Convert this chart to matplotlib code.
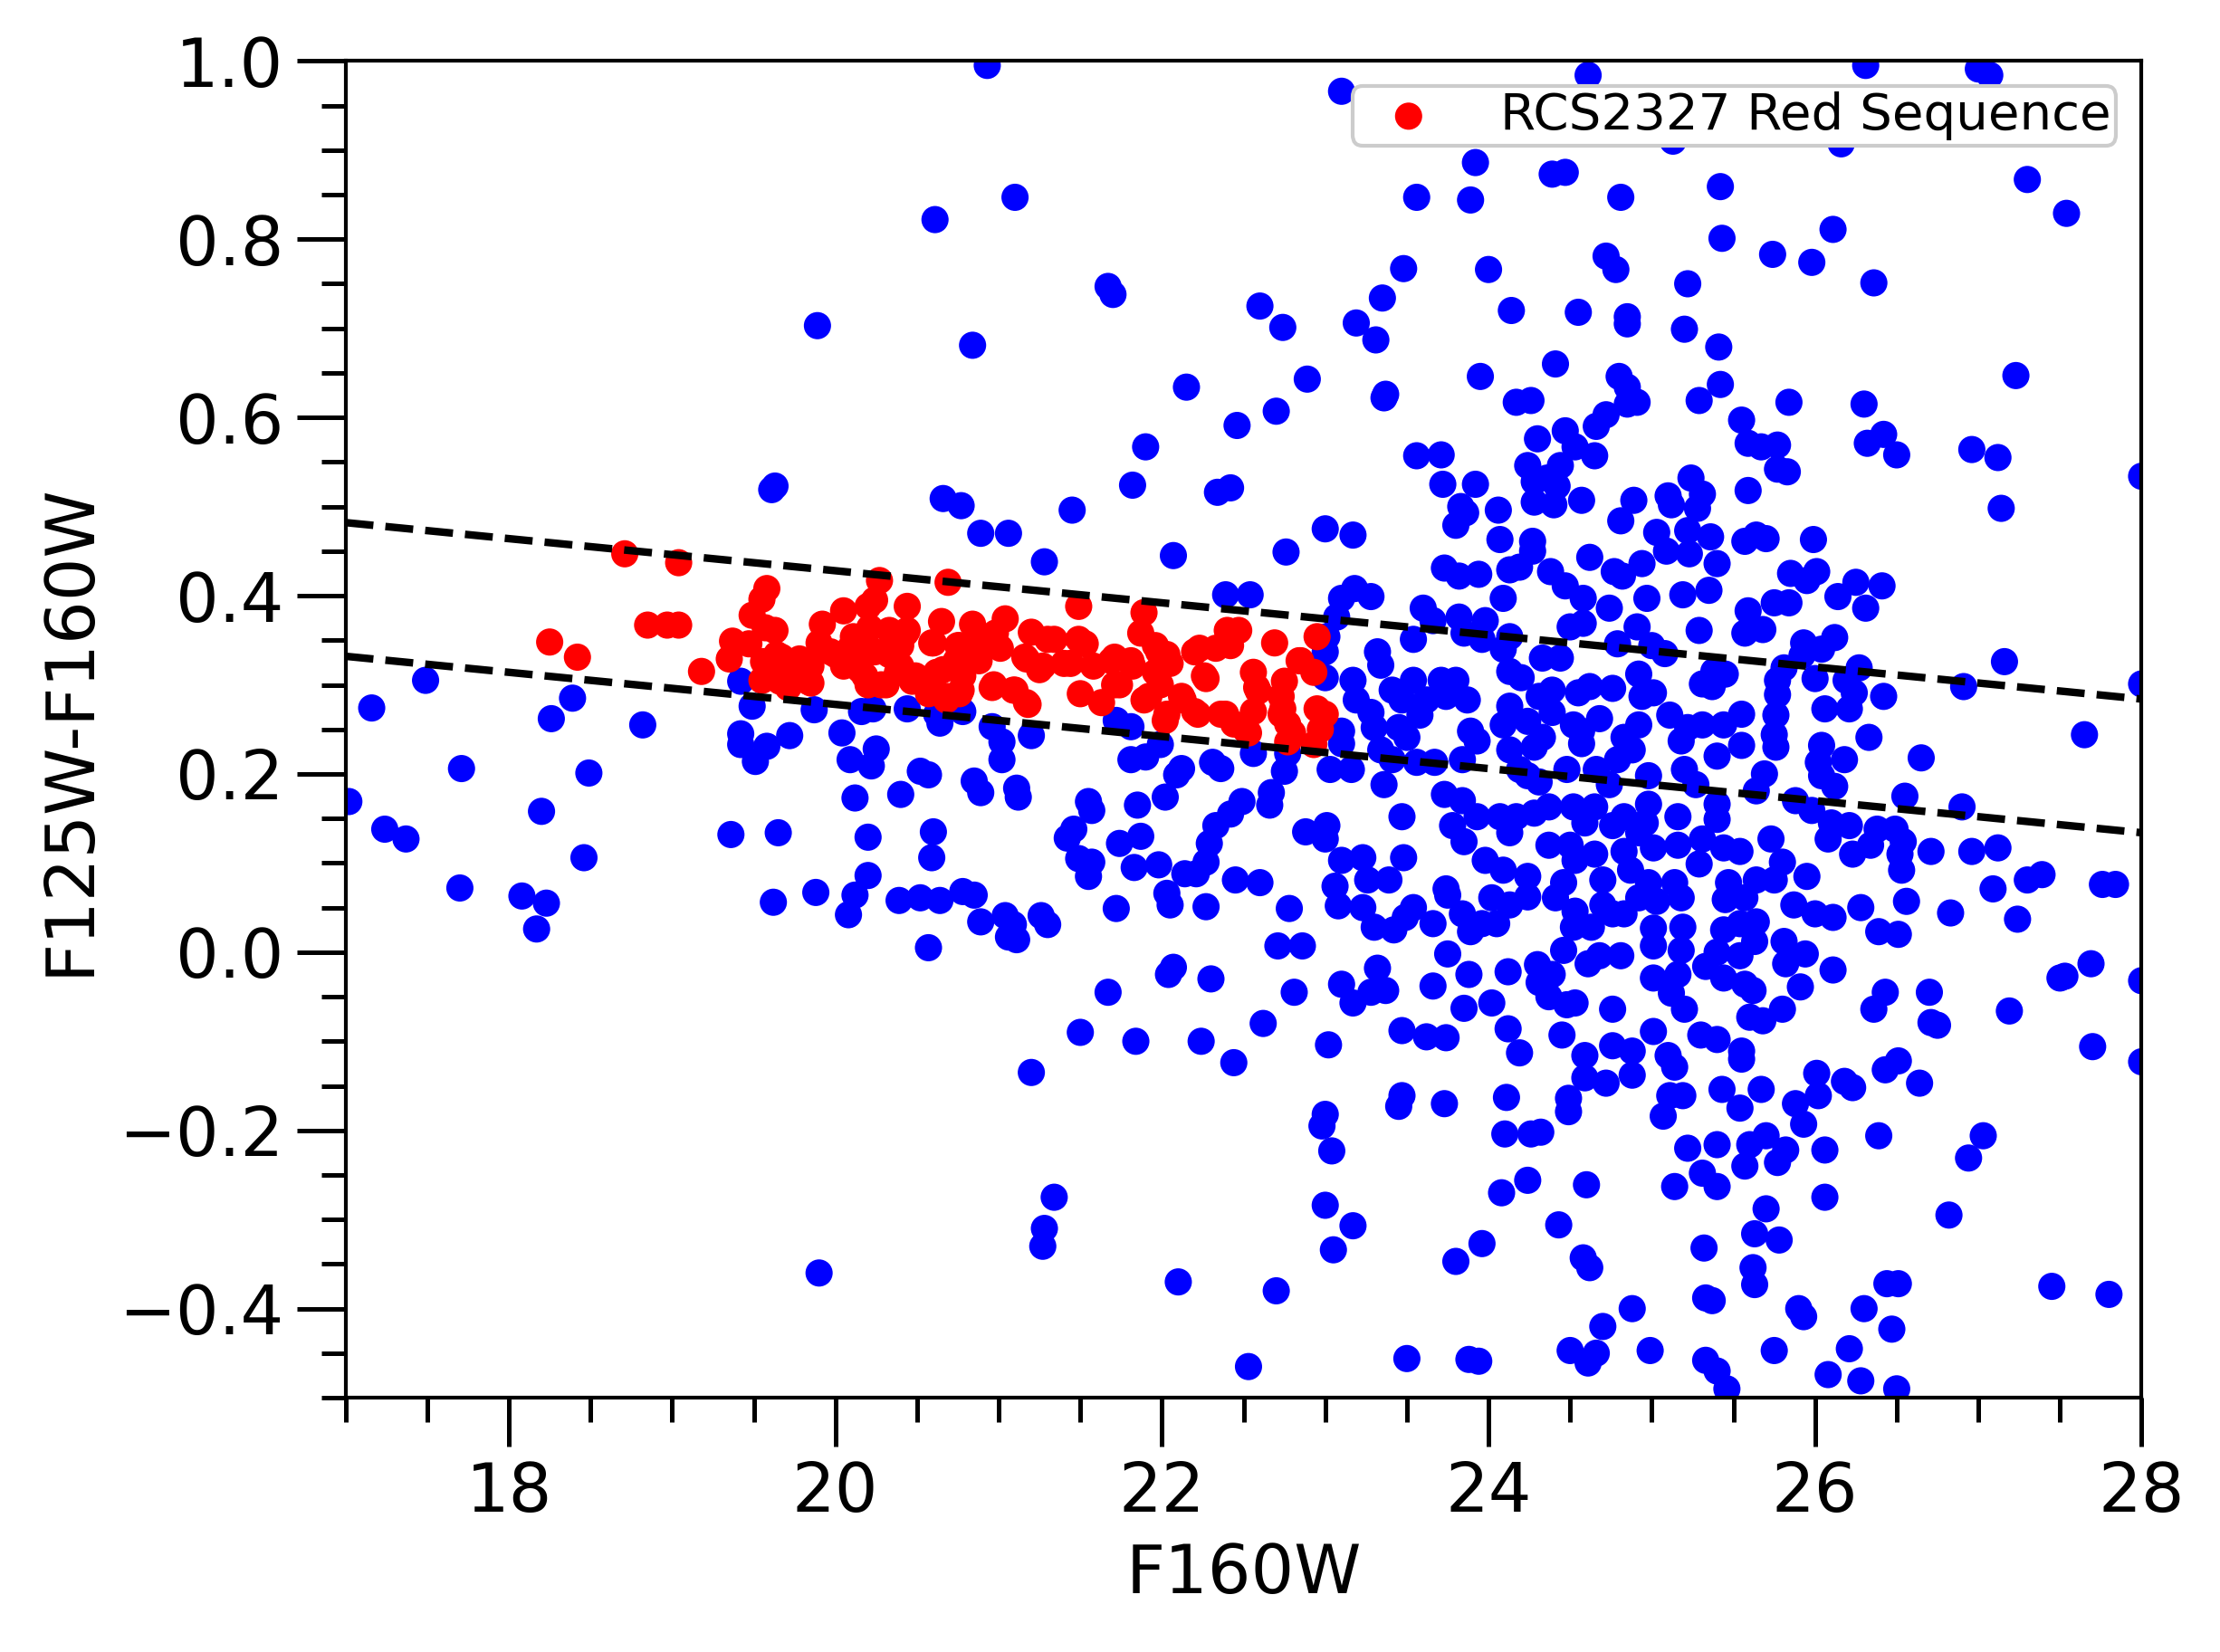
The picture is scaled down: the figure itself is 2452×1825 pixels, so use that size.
import numpy as np
import matplotlib.pyplot as plt
from matplotlib.ticker import MultipleLocator

# (F160W, F125W-F160W), grouped by region of the plot
bright_upper = [
    (20.93, 0.995), (23.10, 0.966), (23.92, 0.886), (23.56, 0.847), (23.89, 0.844), (21.10, 0.847),
    (20.61, 0.822), (19.89, 0.703), (23.48, 0.767), (24.00, 0.766), (21.67, 0.747), (21.70, 0.738),
    (22.60, 0.725), (23.35, 0.734), (24.14, 0.720), (22.74, 0.701), (23.19, 0.706), (23.31, 0.687),
    (20.84, 0.681), (22.15, 0.634), (22.89, 0.643), (23.37, 0.626), (23.95, 0.646), (22.46, 0.591),
    (22.70, 0.607), (21.90, 0.567), (19.61, 0.519), (19.63, 0.523), (20.66, 0.509), (20.77, 0.501),
    (21.45, 0.496), (21.82, 0.524), (22.34, 0.516), (22.42, 0.521),
]

faint_upper = [
    (24.61, 0.984), (26.31, 0.995), (27.00, 0.991), (27.07, 0.984), (25.13, 0.910), (26.16, 0.907),
    (24.39, 0.873), (24.47, 0.875), (24.81, 0.847), (25.42, 0.859), (27.30, 0.867), (27.54, 0.829),
    (25.43, 0.801), (25.74, 0.783), (25.98, 0.774), (26.11, 0.811), (26.36, 0.751), (24.72, 0.781),
    (24.78, 0.766), (25.22, 0.750), (24.55, 0.718), (24.85, 0.713), (24.85, 0.705), (25.20, 0.699),
    (25.41, 0.679), (24.41, 0.660), (24.80, 0.646), (24.85, 0.634), (25.42, 0.637), (27.23, 0.647),
]

mid_cloud = [
    (23.36, 0.622), (24.17, 0.617), (24.26, 0.619), (24.85, 0.615), (24.91, 0.617), (25.29, 0.619),
    (24.72, 0.603), (24.66, 0.590), (24.30, 0.576), (24.47, 0.585), (24.53, 0.567), (24.65, 0.557),
    (24.24, 0.546), (24.44, 0.546), (24.36, 0.532), (24.28, 0.528), (24.42, 0.523), (24.28, 0.505),
    (24.40, 0.502), (24.57, 0.507), (23.56, 0.557), (23.71, 0.558), (23.72, 0.525), (23.92, 0.525),
    (23.83, 0.500), (23.86, 0.493), (23.80, 0.479), (24.06, 0.496), (25.24, 0.532), (25.31, 0.514),
    (24.89, 0.507), (24.81, 0.484), (25.10, 0.512), (25.12, 0.502), (25.28, 0.498), (25.03, 0.471),
    (25.09, 0.450), (25.22, 0.473), (25.36, 0.466), (25.23, 0.447), (25.40, 0.436), (23.00, 0.475),
    (23.17, 0.468), (24.07, 0.463), (24.27, 0.461), (24.27, 0.450), (24.62, 0.443), (24.13, 0.429),
    (24.19, 0.432), (23.73, 0.431), (23.82, 0.422), (23.94, 0.424), (24.38, 0.427), (24.47, 0.411),
    (24.58, 0.397), (24.09, 0.397), (24.77, 0.427), (24.82, 0.422), (24.94, 0.436), (24.97, 0.397),
    (25.19, 0.401), (25.35, 0.406), (24.74, 0.386), (25.29, 0.361), (23.10, 0.397), (23.18, 0.408),
    (23.28, 0.399), (23.07, 0.376), (23.01, 0.354), (23.00, 0.337), (23.00, 0.308), (23.60, 0.386),
    (23.66, 0.372), (23.54, 0.351), (23.82, 0.376), (23.85, 0.358), (23.98, 0.372), (23.96, 0.351),
    (24.13, 0.354), (24.09, 0.340), (24.50, 0.365), (24.58, 0.369), (24.91, 0.365), (24.79, 0.346),
    (25.00, 0.344), (25.08, 0.335), (24.44, 0.330), (24.33, 0.330), (24.13, 0.315), (24.20, 0.308),
    (23.32, 0.337), (23.17, 0.305), (23.34, 0.322), (23.19, 0.283), (23.28, 0.269), (23.41, 0.294),
    (23.54, 0.305), (23.47, 0.283), (23.71, 0.305), (23.80, 0.305), (23.87, 0.283), (23.74, 0.287),
    (23.62, 0.283), (23.58, 0.266), (23.45, 0.252), (23.30, 0.252), (23.10, 0.248), (23.10, 0.234),
    (23.34, 0.227), (23.50, 0.241), (23.41, 0.216), (23.56, 0.213), (23.67, 0.213), (23.84, 0.216),
    (23.89, 0.248), (23.93, 0.237), (24.13, 0.276), (24.09, 0.255), (24.24, 0.259), (24.31, 0.287),
    (24.39, 0.269), (24.39, 0.294), (24.55, 0.291), (24.62, 0.298), (24.76, 0.296), (24.92, 0.312),
    (24.94, 0.287), (25.01, 0.291), (25.11, 0.266), (25.31, 0.301), (25.37, 0.298), (25.38, 0.315),
    (25.45, 0.312), (24.68, 0.262), (24.92, 0.255), (24.83, 0.241), (24.79, 0.216), (24.88, 0.227),
    (24.57, 0.248), (24.57, 0.234), (24.52, 0.255), (24.28, 0.230), (24.33, 0.241), (24.13, 0.227),
    (24.19, 0.205), (24.24, 0.198), (24.31, 0.191), (24.48, 0.205), (24.66, 0.205), (24.74, 0.188),
    (24.98, 0.198), (25.18, 0.237), (25.22, 0.252), (25.31, 0.255), (25.44, 0.255), (25.40, 0.220),
    (25.20, 0.205), (25.27, 0.188), (25.40, 0.166), (25.40, 0.149), (24.98, 0.166), (24.96, 0.145),
    (25.16, 0.152), (23.36, 0.188), (23.16, 0.205), (23.03, 0.205), (23.73, 0.177), (23.84, 0.170),
    (23.47, 0.152), (23.78, 0.142), (23.93, 0.152), (23.85, 0.124), (24.07, 0.152), (24.17, 0.152),
    (24.13, 0.134), (24.28, 0.156), (24.37, 0.163), (24.52, 0.163), (24.65, 0.163), (24.59, 0.145),
    (24.37, 0.120), (24.50, 0.120), (24.65, 0.110), (24.76, 0.142), (24.83, 0.152), (24.92, 0.134),
    (24.83, 0.113), (25.01, 0.117), (25.16, 0.120), (25.31, 0.127), (25.44, 0.117), (24.53, 0.103),
    (23.01, 0.142), (23.00, 0.127), (23.10, 0.103), (23.23, 0.106), (23.26, 0.081), (23.39, 0.081),
    (23.48, 0.106), (23.74, 0.071), (23.98, 0.103), (24.09, 0.092), (24.24, 0.085), (24.46, 0.078),
    (24.70, 0.081), (24.87, 0.092), (24.98, 0.078), (25.14, 0.078), (25.29, 0.099), (25.47, 0.078),
    (23.06, 0.074),
]

faint_mid = [
    (25.84, 0.617), (26.30, 0.615), (25.55, 0.597), (25.59, 0.571), (25.67, 0.567), (25.77, 0.569),
    (25.77, 0.542), (25.83, 0.539), (25.59, 0.518), (26.32, 0.571), (26.42, 0.581), (26.50, 0.558),
    (26.96, 0.564), (27.12, 0.555), (27.14, 0.498), (28.00, 0.534), (25.57, 0.461), (25.64, 0.468),
    (25.70, 0.464), (25.99, 0.463), (25.85, 0.425), (25.95, 0.417), (26.01, 0.427), (26.14, 0.399),
    (26.25, 0.415), (26.41, 0.411), (26.31, 0.386), (25.59, 0.383), (25.75, 0.392), (25.84, 0.392),
    (25.57, 0.358), (25.68, 0.362), (25.93, 0.347), (26.12, 0.353), (26.04, 0.340), (25.92, 0.333),
    (25.81, 0.319), (25.77, 0.305), (26.00, 0.307), (26.27, 0.319), (26.19, 0.305), (26.24, 0.291),
    (26.42, 0.287), (26.06, 0.273), (26.21, 0.273), (25.77, 0.289), (25.76, 0.266), (25.75, 0.244),
    (25.76, 0.230), (25.55, 0.267), (25.55, 0.232), (25.69, 0.200), (25.64, 0.181), (26.04, 0.232),
    (26.02, 0.213), (26.18, 0.216), (26.33, 0.241), (26.65, 0.218), (26.04, 0.198), (26.12, 0.186),
    (26.55, 0.175), (26.90, 0.163), (27.16, 0.326), (26.91, 0.298), (28.00, 0.301), (27.65, 0.244),
    (25.88, 0.170), (25.98, 0.159), (26.10, 0.145), (26.21, 0.142), (26.08, 0.127), (26.23, 0.110),
    (26.34, 0.120), (26.38, 0.138), (26.49, 0.138), (26.54, 0.124), (26.52, 0.110), (26.53, 0.092),
    (26.71, 0.113), (26.96, 0.113), (27.12, 0.117), (25.73, 0.127), (25.80, 0.101), (25.54, 0.113),
    (25.95, 0.085), (25.64, 0.081), (25.75, 0.081), (27.30, 0.081), (27.39, 0.087), (27.76, 0.076),
    (27.84, 0.076), (27.09, 0.071),
]

mid_lower = [
    (23.08, 0.052), (23.23, 0.050), (23.30, 0.028), (23.42, 0.025), (23.54, 0.050), (23.49, 0.039),
    (23.66, 0.032), (23.75, 0.064), (23.84, 0.043), (23.89, 0.023), (23.96, 0.032), (24.05, 0.032),
    (24.02, 0.061), (24.13, 0.053), (24.24, 0.062), (24.41, 0.061), (24.53, 0.046), (24.52, 0.028),
    (24.63, 0.028), (24.70, 0.053), (24.76, 0.043), (24.83, 0.043), (24.92, 0.061), (25.03, 0.057),
    (25.18, 0.061), (25.01, 0.027), (25.19, 0.028), (25.01, 0.007), (25.18, 0.002), (25.44, 0.025),
    (25.45, 0.059), (25.40, 0.000), (25.33, -0.016), (25.44, -0.029), (25.01, -0.029), (25.16, -0.025),
    (25.12, -0.046), (25.20, -0.064), (23.75, -0.002), (23.88, -0.025), (24.12, -0.022), (24.30, -0.014),
    (24.39, -0.025), (24.31, -0.034), (24.37, -0.050), (24.48, -0.059), (24.53, -0.057), (24.46, 0.002),
    (24.61, -0.013), (24.68, -0.004), (24.81, -0.004), (24.76, -0.064), (23.10, -0.036), (23.17, -0.057),
    (23.32, -0.018), (23.28, -0.045), (23.37, -0.043), (23.66, -0.038), (23.85, -0.063), (24.02, -0.057),
    (23.47, -0.088), (23.62, -0.095), (23.74, -0.096), (23.02, -0.104), (24.12, -0.086), (24.19, -0.113),
    (24.45, -0.093), (24.59, -0.116), (24.76, -0.105), (24.88, -0.111), (25.01, -0.089), (25.10, -0.116),
    (25.14, -0.129), (24.59, -0.141), (24.72, -0.147), (24.88, -0.138), (25.30, -0.093), (25.40, -0.098),
    (23.47, -0.161), (23.45, -0.173), (23.73, -0.170), (24.11, -0.163), (24.49, -0.164), (24.49, -0.179),
    (25.11, -0.161), (25.19, -0.161), (25.07, -0.184), (25.43, -0.154), (23.00, -0.182), (24.10, -0.204),
    (24.26, -0.204), (24.32, -0.202), (23.04, -0.223), (25.22, -0.220), (25.40, -0.216), (25.31, -0.248),
    (25.40, -0.263), (25.14, -0.263), (24.08, -0.270), (24.24, -0.256), (24.60, -0.261), (23.00, -0.284),
    (23.17, -0.307), (23.05, -0.334), (23.96, -0.327), (23.80, -0.347), (24.43, -0.306), (24.58, -0.343),
    (24.62, -0.354), (25.32, -0.332), (24.88, -0.400), (24.70, -0.420), (25.33, -0.388), (25.37, -0.391),
    (23.50, -0.456), (23.88, -0.457), (23.94, -0.459), (24.50, -0.447), (24.66, -0.450), (24.61, -0.461),
    (24.99, -0.447), (25.33, -0.458), (25.40, -0.470), (25.46, -0.490),
]

faint_lower = [
    (25.57, 0.061), (25.87, 0.053), (26.00, 0.043), (26.11, 0.039), (26.28, 0.050), (26.56, 0.057),
    (26.83, 0.044), (27.24, 0.037), (26.39, 0.023), (26.51, 0.020), (25.54, 0.032), (25.64, 0.034),
    (25.63, 0.012), (25.81, 0.012), (25.94, -0.002), (25.82, -0.013), (25.54, -0.004), (26.11, -0.020),
    (25.91, -0.039), (25.57, -0.036), (25.62, -0.043), (25.80, -0.064), (25.60, -0.073), (25.68, -0.077),
    (26.43, -0.045), (26.36, -0.064), (26.70, -0.045), (26.71, -0.079), (26.75, -0.082), (27.19, -0.066),
    (27.50, -0.029), (27.53, -0.027), (27.69, -0.013), (28.00, -0.032), (27.70, -0.106), (28.00, -0.123),
    (25.55, -0.111), (25.55, -0.120), (26.01, -0.136), (26.02, -0.161), (26.18, -0.145), (26.23, -0.152),
    (26.43, -0.132), (26.51, -0.122), (26.64, -0.147), (25.67, -0.154), (25.54, -0.175), (25.88, -0.170),
    (25.93, -0.193), (25.70, -0.206), (25.60, -0.216), (25.82, -0.222), (25.57, -0.240), (25.77, -0.236),
    (26.06, -0.222), (26.39, -0.206), (27.03, -0.206), (26.94, -0.231), (26.06, -0.275), (25.70, -0.288),
    (25.63, -0.316), (25.78, -0.323), (26.82, -0.295), (25.62, -0.354), (25.63, -0.373), (26.44, -0.372),
    (26.51, -0.372), (25.90, -0.400), (25.93, -0.409), (26.30, -0.400), (26.47, -0.423), (27.45, -0.375),
    (27.80, -0.384), (25.75, -0.447), (26.21, -0.445), (26.08, -0.474), (26.28, -0.481), (26.50, -0.490),
]

bright_lower = [
    (17.49, 0.305), (17.16, 0.274), (18.39, 0.285), (18.26, 0.262), (18.82, 0.255), (17.71, 0.206),
    (18.49, 0.201), (17.02, 0.169), (17.24, 0.138), (17.37, 0.127), (18.20, 0.158), (18.46, 0.106),
    (17.70, 0.072), (18.08, 0.063), (18.23, 0.055), (18.17, 0.026), (19.42, 0.304), (19.49, 0.276),
    (19.87, 0.272), (19.42, 0.245), (19.42, 0.233), (19.51, 0.214), (19.72, 0.243), (19.58, 0.231),
    (20.04, 0.246), (20.16, 0.270), (20.23, 0.273), (20.44, 0.273), (20.62, 0.267), (20.64, 0.257),
    (20.09, 0.216), (20.25, 0.228), (20.22, 0.209), (20.52, 0.203), (20.57, 0.199), (20.12, 0.173),
    (20.40, 0.177), (19.36, 0.132), (19.65, 0.134), (20.20, 0.129), (20.60, 0.135), (20.59, 0.106),
    (20.20, 0.086), (20.12, 0.064), (20.08, 0.042), (19.62, 0.056), (19.88, 0.067), (20.39, 0.058),
    (20.52, 0.061), (20.64, 0.058), (20.57, 0.005),
    (20.89, 0.470), (21.06, 0.470), (21.28, 0.438), (22.07, 0.445), (22.76, 0.449), (22.39, 0.401),
    (22.54, 0.401), (20.78, 0.270), (20.96, 0.253), (21.02, 0.236), (21.02, 0.216), (21.20, 0.243),
    (20.85, 0.192), (20.89, 0.179), (21.11, 0.184), (21.12, 0.174), (21.72, 0.260), (21.81, 0.253),
    (21.99, 0.233), (21.81, 0.216), (21.90, 0.219), (22.12, 0.206), (22.09, 0.199), (22.31, 0.213),
    (22.36, 0.206), (22.56, 0.223), (22.77, 0.223), (22.75, 0.203), (22.02, 0.174), (22.67, 0.179),
    (22.66, 0.165), (22.49, 0.169), (22.42, 0.155), (22.33, 0.142), (22.29, 0.122), (22.27, 0.101),
    (22.21, 0.088), (22.14, 0.088), (21.55, 0.169), (21.57, 0.159), (21.46, 0.138), (21.42, 0.128),
    (21.49, 0.105), (21.57, 0.101), (21.55, 0.085), (21.74, 0.122), (21.87, 0.130), (21.83, 0.095),
    (21.98, 0.098), (21.85, 0.165), (22.03, 0.066), (22.05, 0.053), (21.72, 0.049), (22.27, 0.051),
    (22.45, 0.081), (22.60, 0.078), (22.78, 0.049), (22.88, 0.135), (20.78, 0.068), (20.85, 0.064),
    (20.89, 0.034), (21.04, 0.041), (21.09, 0.031), (21.11, 0.014), (21.06, 0.017), (21.26, 0.041),
    (21.30, 0.031), (22.71, 0.007), (22.86, 0.007),
]

bright_negative = [
    (19.90, -0.360), (21.20, -0.135), (21.28, -0.310), (21.27, -0.330), (21.34, -0.275), (21.50, -0.090),
    (21.67, -0.045), (21.84, -0.100), (22.04, -0.025), (22.07, -0.017), (22.10, -0.370), (22.24, -0.100),
    (22.30, -0.030), (22.44, -0.124), (22.53, -0.465), (22.62, -0.080), (22.70, -0.380), (22.81, -0.045),
    (22.98, -0.195),
]

red_bright = [
    (18.71, 0.447), (19.04, 0.437), (18.25, 0.348), (18.42, 0.331), (18.85, 0.367), (18.97, 0.367),
    (19.04, 0.367), (19.18, 0.315), (19.58, 0.408), (19.55, 0.396), (19.49, 0.378), (19.57, 0.364),
    (19.37, 0.349), (19.35, 0.329), (19.47, 0.346), (19.56, 0.326), (19.64, 0.334), (19.55, 0.305),
    (19.66, 0.304), (19.78, 0.329), (19.78, 0.309), (19.85, 0.302), (19.71, 0.297), (19.92, 0.368),
    (19.90, 0.347), (19.97, 0.337), (20.05, 0.383), (20.20, 0.388), (20.27, 0.417), (20.44, 0.388),
    (20.11, 0.354), (20.21, 0.364), (20.43, 0.358), (20.07, 0.331), (20.19, 0.341), (20.33, 0.334),
    (20.15, 0.317), (20.20, 0.300), (20.28, 0.300), (20.38, 0.314), (20.47, 0.304), (20.59, 0.347),
    (20.65, 0.371), (20.69, 0.415), (20.62, 0.314), (20.57, 0.290), (20.68, 0.283),
    (20.24, 0.395), (20.18, 0.354), (20.33, 0.361), (20.44, 0.361), (20.09, 0.341), (20.00, 0.334),
    (20.24, 0.337), (20.40, 0.344), (20.60, 0.347), (20.75, 0.344), (20.92, 0.347), (21.16, 0.331),
    (21.27, 0.321), (21.40, 0.324), (19.67, 0.331), (19.67, 0.310), (19.83, 0.304), (19.63, 0.361),
    (20.05, 0.321), (20.18, 0.310), (20.31, 0.300), (20.40, 0.321), (20.49, 0.310), (20.66, 0.317),
    (20.77, 0.321), (20.88, 0.327), (20.60, 0.297), (20.68, 0.287), (20.77, 0.294), (20.97, 0.300),
    (21.10, 0.294), (21.17, 0.280), (19.85, 0.321),
]

red_faint = [
    (21.49, 0.388), (21.89, 0.381), (21.87, 0.358), (20.84, 0.368), (21.04, 0.374), (20.98, 0.358),
    (21.20, 0.359), (21.30, 0.351), (21.49, 0.351), (21.53, 0.346), (20.76, 0.344), (20.89, 0.344),
    (21.01, 0.341), (21.17, 0.329), (21.25, 0.317), (21.44, 0.324), (20.74, 0.327), (20.78, 0.310),
    (20.76, 0.290), (20.96, 0.297), (21.09, 0.294), (21.18, 0.278), (21.50, 0.290), (21.63, 0.280),
    (21.69, 0.327), (21.74, 0.300), (21.81, 0.327), (21.96, 0.344), (22.03, 0.334), (21.96, 0.314),
    (21.92, 0.287), (21.99, 0.300), (22.03, 0.267), (22.12, 0.287), (22.20, 0.270), (22.27, 0.307),
    (22.23, 0.341), (22.40, 0.361), (22.47, 0.361), (22.42, 0.344), (22.36, 0.267), (22.44, 0.256),
    (22.53, 0.246), (22.56, 0.314), (22.58, 0.297), (22.56, 0.270), (22.69, 0.347), (22.75, 0.304),
    (22.73, 0.287), (22.73, 0.267), (22.84, 0.327), (22.93, 0.314), (22.95, 0.354), (22.95, 0.273),
    (22.97, 0.250), (22.93, 0.233), (22.77, 0.236), (22.80, 0.246), (23.00, 0.267),
    (21.34, 0.351), (21.58, 0.321), (21.71, 0.331), (21.71, 0.300), (21.82, 0.321), (21.98, 0.337),
    (22.05, 0.324), (21.89, 0.283), (22.02, 0.260), (22.13, 0.283), (22.22, 0.267), (22.39, 0.267),
    (22.51, 0.250), (22.26, 0.310), (22.20, 0.337), (22.33, 0.341), (22.59, 0.293), (22.85, 0.327),
    (22.77, 0.256), (22.74, 0.273),
]

# red sequence selection lines: colour = slope * F160W + intercept
rs_slope = -0.018
rs_upper = 0.788
rs_lower = 0.638


def split(*groups):
    pts = [p for g in groups for p in g]
    return np.array([p[0] for p in pts]), np.array([p[1] for p in pts])


blue_mag, blue_col = split(bright_upper, faint_upper, mid_cloud, faint_mid,
                           mid_lower, faint_lower, bright_lower, bright_negative)
red_mag, red_col = split(red_bright, red_faint)

fig = plt.figure(figsize=(2453 / 300, 1825 / 300), dpi=300)
ax = fig.add_axes([0.1556, 0.1539, 0.8087, 0.8092])

ax.scatter(blue_mag, blue_col, s=52, c='blue', edgecolors='none')
ax.scatter(red_mag, red_col, s=52, c='red', edgecolors='none', label='RCS2327 Red Sequence')

xl = np.array([17.0, 28.0])
ax.plot(xl, rs_slope * xl + rs_upper, 'k--', lw=2)
ax.plot(xl, rs_slope * xl + rs_lower, 'k--', lw=2)

ax.set_xlim(17, 28)
ax.set_ylim(-0.5, 1.0)
ax.xaxis.set_major_locator(MultipleLocator(2))
ax.xaxis.set_minor_locator(MultipleLocator(0.5))
ax.yaxis.set_major_locator(MultipleLocator(0.2))
ax.yaxis.set_minor_locator(MultipleLocator(0.05))
ax.tick_params(which='major', length=13, width=1.2, labelsize=18)
ax.tick_params(which='minor', length=6.5, width=1.2)
for sp in ax.spines.values():
    sp.set_linewidth(1.0)

ax.set_xlabel('F160W', fontsize=18)
ax.set_ylabel('F125W-F160W', fontsize=18)

leg = ax.legend(loc='upper right', fontsize=13.5, borderpad=0.1, framealpha=1,
                edgecolor='0.8', scatterpoints=1)

fig.savefig('out.png', dpi=300)
